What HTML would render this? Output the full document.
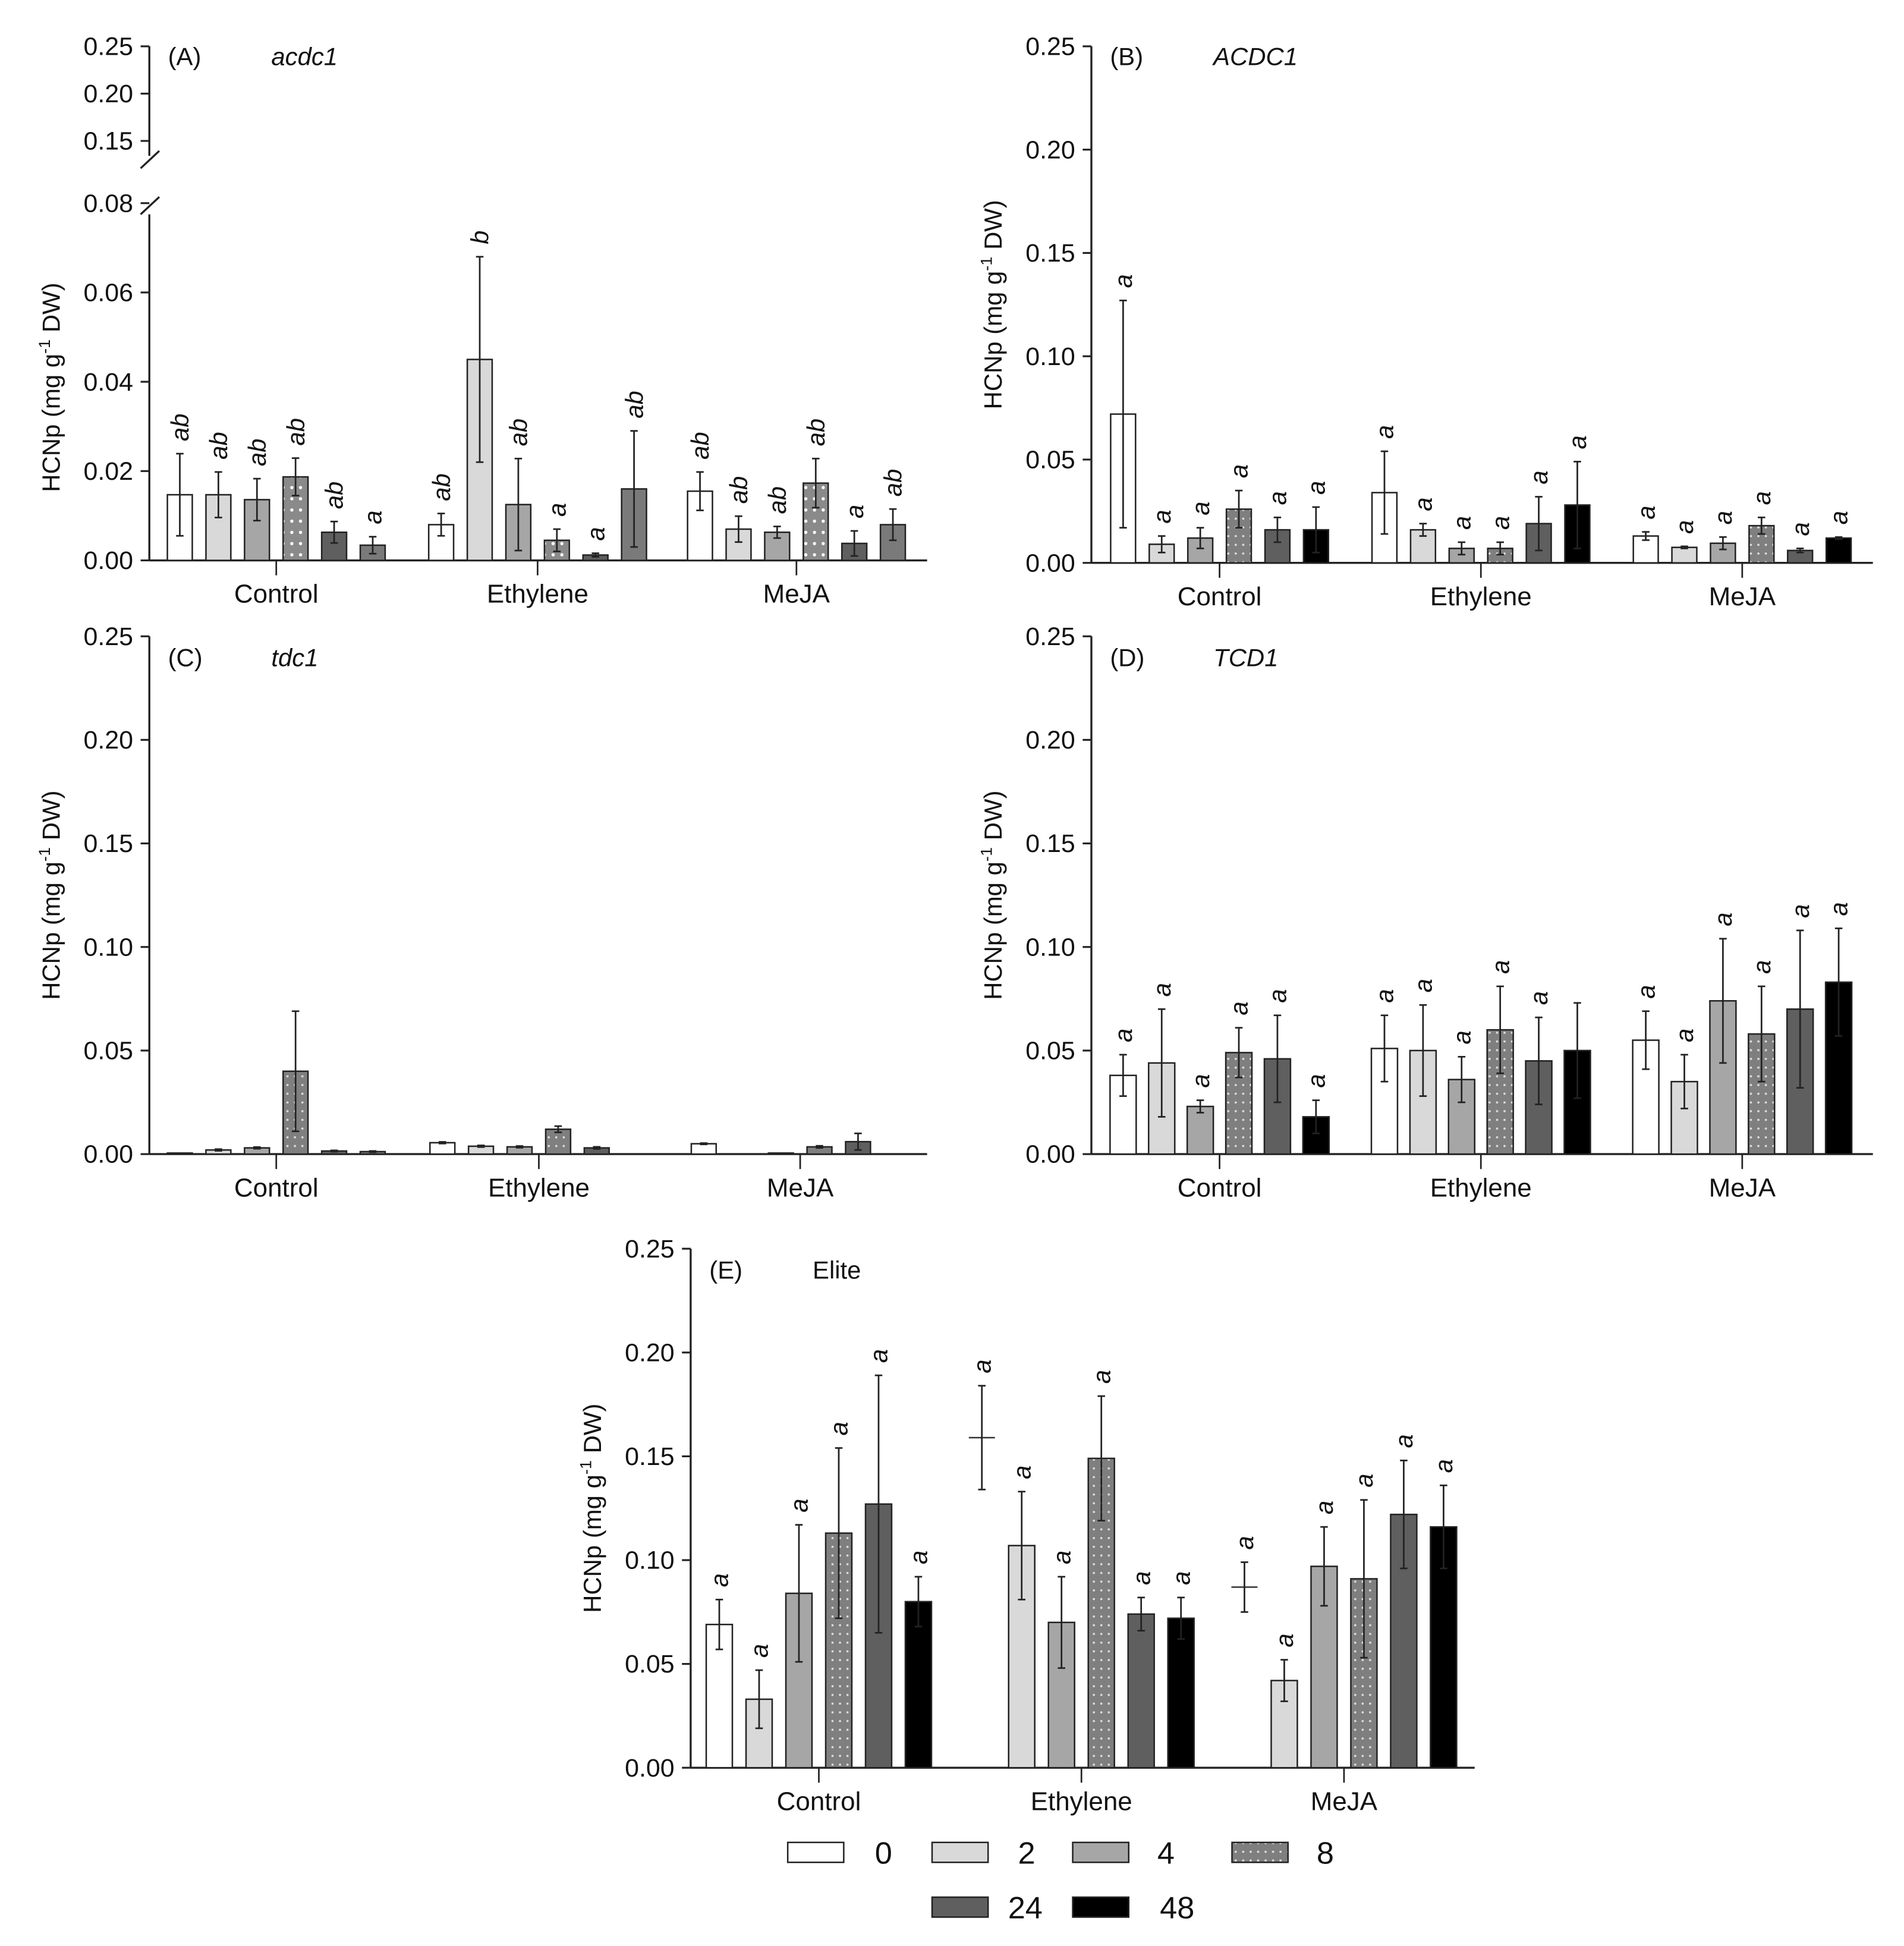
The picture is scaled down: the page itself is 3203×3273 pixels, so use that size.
<!DOCTYPE html>
<html><head><meta charset="utf-8"><style>
html,body{margin:0;padding:0;background:#fff;}
svg{display:block;}
text{font-family:"Liberation Sans",sans-serif;fill:#111;}
</style></head><body>
<svg id="chart" xmlns="http://www.w3.org/2000/svg" width="3203" height="3273" viewBox="0 0 1530 1563">
<defs>
<pattern id="dots" patternUnits="userSpaceOnUse" width="6" height="7"><rect width="6" height="7" fill="#7f7f7f"/><circle cx="3" cy="3.5" r="0.9" fill="#ddd"/></pattern>
<pattern id="dotsA" patternUnits="userSpaceOnUse" width="7" height="9"><rect width="7" height="9" fill="#8a8a8a"/><circle cx="3.5" cy="4.5" r="1.3" fill="#fff"/></pattern>
</defs>
<g id="root"></g>
</svg>
<script>
const categories=["Control","Ethylene","MeJA"];
const seriesNames=["0","2","4","8","24","48"];
// Panel A acdc1
const aValues=[[0.0147,0.0147,0.0136,0.0187,0.0063,0.0034],[0.008,0.045,0.0125,0.0045,0.0012,0.016],[0.0155,0.007,0.0063,0.0173,0.0038,0.008]];
const aErrors=[[0.0092,0.0051,0.0047,0.0042,0.0024,0.0019],[0.0025,0.023,0.0103,0.0025,0.0004,0.013],[0.0043,0.0029,0.0013,0.0055,0.0028,0.0035]];
const aLetters=[["ab","ab","ab","ab","ab","a"],["ab","b","ab","a","a","ab"],["ab","ab","ab","ab","a","ab"]];
// Panel B ACDC1
const bValues=[[0.072,0.009,0.012,0.026,0.016,0.016],[0.034,0.016,0.007,0.007,0.019,0.028],[0.013,0.0075,0.0095,0.018,0.006,0.012]];
const bErrors=[[0.055,0.004,0.005,0.009,0.006,0.011],[0.02,0.003,0.003,0.003,0.013,0.021],[0.002,0.0005,0.003,0.004,0.001,0.0005]];
const bLetters=[["a","a","a","a","a","a"],["a","a","a","a","a","a"],["a","a","a","a","a","a"]];
// Panel C tdc1
const cValues=[[0.0005,0.002,0.003,0.04,0.0015,0.0012],[0.0055,0.0038,0.0035,0.012,0.003,0],[0.005,0,0.0005,0.0035,0.006,0]];
const cErrors=[[0,0.0004,0.0004,0.029,0.0003,0.0003],[0.0004,0.0004,0.0004,0.0015,0.0005,0],[0.0003,0,0,0.0005,0.004,0]];
const cLetters=[["","","","","",""],["","","","","",""],["","","","","",""]];
// Panel D TCD1
const dValues=[[0.038,0.044,0.023,0.049,0.046,0.018],[0.051,0.050,0.036,0.060,0.045,0.050],[0.055,0.035,0.074,0.058,0.070,0.083]];
const dErrors=[[0.01,0.026,0.003,0.012,0.021,0.008],[0.016,0.022,0.011,0.021,0.021,0.023],[0.014,0.013,0.03,0.023,0.038,0.026]];
const dLetters=[["a","a","a","a","a","a"],["a","a","a","a","a",""],["a","a","a","a","a","a"]];
// Panel E Elite
const eValues=[[0.069,0.033,0.084,0.113,0.127,0.080],[0.159,0.107,0.070,0.149,0.074,0.072],[0.087,0.042,0.097,0.091,0.122,0.116]];
const eErrors=[[0.012,0.014,0.033,0.041,0.062,0.012],[0.025,0.026,0.022,0.030,0.008,0.010],[0.012,0.010,0.019,0.038,0.026,0.020]];
const eLetters=[["a","a","a","a","a","a"],["a","a","a","a","a","a"],["a","a","a","a","a","a"]];
const yTicks=["0.00","0.05","0.10","0.15","0.20","0.25"];
const aLowTicks=["0.00","0.02","0.04","0.06","0.08"];
const aHighTicks=["0.15","0.20","0.25"];

const NS="http://www.w3.org/2000/svg";
const root=document.getElementById('root');
function mk(tag,attrs,parent,txt){const e=document.createElementNS(NS,tag);for(const k in attrs)e.setAttribute(k,attrs[k]);if(txt!==undefined)e.textContent=txt;(parent||root).appendChild(e);return e;}
const fills=["#ffffff","#d9d9d9","#a6a6a6","url(#dots)","#5f5f5f","#000000"];

function panel(o){
  const g=mk('g',{});
  
  
  const y=o.y;
  const ya=mk('line',{x1:o.x0,x2:o.x0,y1:o.yTop,y2:o.y0,stroke:'#222','stroke-width':1.6},g);
  
  const xa=mk('line',{x1:o.x0,x2:o.x1,y1:o.y0,y2:o.y0,stroke:'#222','stroke-width':1.6},g);
  
  o.ticks.forEach(t=>{
    const v=parseFloat(t), py=y(v);
    mk('line',{x1:o.x0-7,x2:o.x0,y1:py,y2:py,stroke:'#222','stroke-width':1.5},g);
    const tl=mk('text',{x:o.x0-13,y:py+7,'text-anchor':'end','font-size':20.5},g,t);
    
  });
  const yt=mk('text',{transform:`translate(${o.x0-72},${(o.yTop+o.y0)/2}) rotate(-90)`,'text-anchor':'middle','font-size':20},g);
  
  yt.innerHTML='HCNp (mg g<tspan dy="-8" font-size="13">-1</tspan><tspan dy="8"> DW)</tspan>';
  const lab=mk('text',{x:o.x0+15,y:o.titleY,'font-size':20,'font-family':'Liberation Sans'},g,'('+o.id.toUpperCase()+')');
  
  const gt=mk('text',{x:o.x0+98,y:o.titleY,'font-size':20,'font-style':o.italic?'italic':'normal'},g,o.gene);
  
  categories.forEach((c,ci)=>{
    const cx=o.cx[ci];
    mk('line',{x1:cx,x2:cx,y1:o.y0,y2:o.y0+12,stroke:'#222','stroke-width':1.3},g);
    const cl=mk('text',{x:cx,y:o.y0+34,'text-anchor':'middle','font-size':21},g,c);
    
    seriesNames.forEach((s,si)=>{
      const v=o.vals[ci][si], e=o.errs[ci][si];
      const bx=cx+(si-2.5)*o.sp-o.bw/2;
      let f=fills[si]; if(si===3&&o.id==='a')f='url(#dotsA)'; if(si===5&&o.grey48)f='#7a7a7a';
      const cross=o.cross&&o.cross[ci]===si;
      if(v>0){
        const r=mk('rect',{x:bx,y:y(v),width:o.bw,height:o.y0-y(v),fill:cross?'none':f,stroke:cross?'none':'#222','stroke-width':1.2},g);
        
        if(cross)mk('line',{x1:bx,x2:bx+o.bw,y1:y(v),y2:y(v),stroke:'#333','stroke-width':1.2},g);
      }
      const mx=bx+o.bw/2;
      if(e>0){
        const eb=mk('line',{x1:mx,x2:mx,y1:y(v+e),y2:y(Math.max(0,v-e)),stroke:'#222','stroke-width':1.3},g);
        
        mk('line',{x1:mx-3,x2:mx+3,y1:y(v+e),y2:y(v+e),stroke:'#222','stroke-width':1.3},g);
        mk('line',{x1:mx-3,x2:mx+3,y1:y(Math.max(0,v-e)),y2:y(Math.max(0,v-e)),stroke:'#222','stroke-width':1.3},g);
      }
      const L=o.letters[ci][si];
      if(L){
        const ty=y(v+e)-10;
        const lt=mk('text',{transform:`translate(${mx+7},${ty}) rotate(-90)`,'font-size':20,'font-style':'italic'},g,L);
        
      }
    });
  });
  return g;
}
function lin(y0,yTop,max){return v=>y0-(v/max)*(y0-yTop);}

(function(){
  const y0=450, low=v=>y0-v/0.08*(450-163);
  const yA=v=> v<=0.08?low(v): (113-(v-0.15)/0.10*(113-37));
  const g=panel({id:'a',gene:'acdc1',italic:true,x0:120,x1:745,y0:450,yTop:172,y:yA,ticks:aLowTicks,titleY:52,cx:[222,432,640],sp:31,bw:20,vals:aValues,errs:aErrors,letters:aLetters,grey48:true});
  mk('line',{x1:120,x2:120,y1:37,y2:125,stroke:'#222','stroke-width':1.6},g);
  aHighTicks.forEach(t=>{const py=yA(parseFloat(t));mk('line',{x1:113,x2:120,y1:py,y2:py,stroke:'#222','stroke-width':1.5},g);
    const tl=mk('text',{x:107,y:py+7,'text-anchor':'end','font-size':20.5},g,t);});
  mk('line',{x1:113,x2:128,y1:135,y2:121,stroke:'#222','stroke-width':1.6},g);
  mk('line',{x1:113,x2:128,y1:172,y2:158,stroke:'#222','stroke-width':1.6},g);
})();
panel({id:'b',gene:'ACDC1',italic:true,x0:877,x1:1505,y0:452,yTop:37,y:lin(452,37,0.25),ticks:yTicks,titleY:52,cx:[980,1190,1400],sp:31,bw:20,vals:bValues,errs:bErrors,letters:bLetters});
panel({id:'c',gene:'tdc1',italic:true,x0:120,x1:745,y0:927,yTop:511,y:lin(927,511,0.25),ticks:yTicks,titleY:535,cx:[222,433,643],sp:31,bw:20,vals:cValues,errs:cErrors,letters:cLetters,grey48:true});
panel({id:'d',gene:'TCD1',italic:true,x0:877,x1:1505,y0:927,yTop:511,y:lin(927,511,0.25),ticks:yTicks,titleY:535,cx:[980,1190,1400],sp:31,bw:21,vals:dValues,errs:dErrors,letters:dLetters});
panel({id:'e',gene:'Elite',italic:false,x0:555,x1:1185,y0:1420,yTop:1003,y:lin(1420,1003,0.25),ticks:yTicks,titleY:1027,cx:[658,869,1080],sp:32,bw:21,vals:eValues,errs:eErrors,letters:eLetters,cross:[-1,0,0]});

const legendX=[633,749,862,990,749,862];
const legendY=[1480,1480,1480,1480,1524,1524];
const legendTX=[703,818,930,1058,810,932];
const lg=mk('g',{});


seriesNames.forEach((s,i)=>{
  const r=mk('rect',{x:legendX[i],y:legendY[i],width:45,height:16,fill:fills[i],stroke:'#222','stroke-width':1.2},lg);
  
  const t=mk('text',{x:legendTX[i],y:legendY[i]+17,'font-size':25},lg,s);
  
});
</script>
</body></html>
